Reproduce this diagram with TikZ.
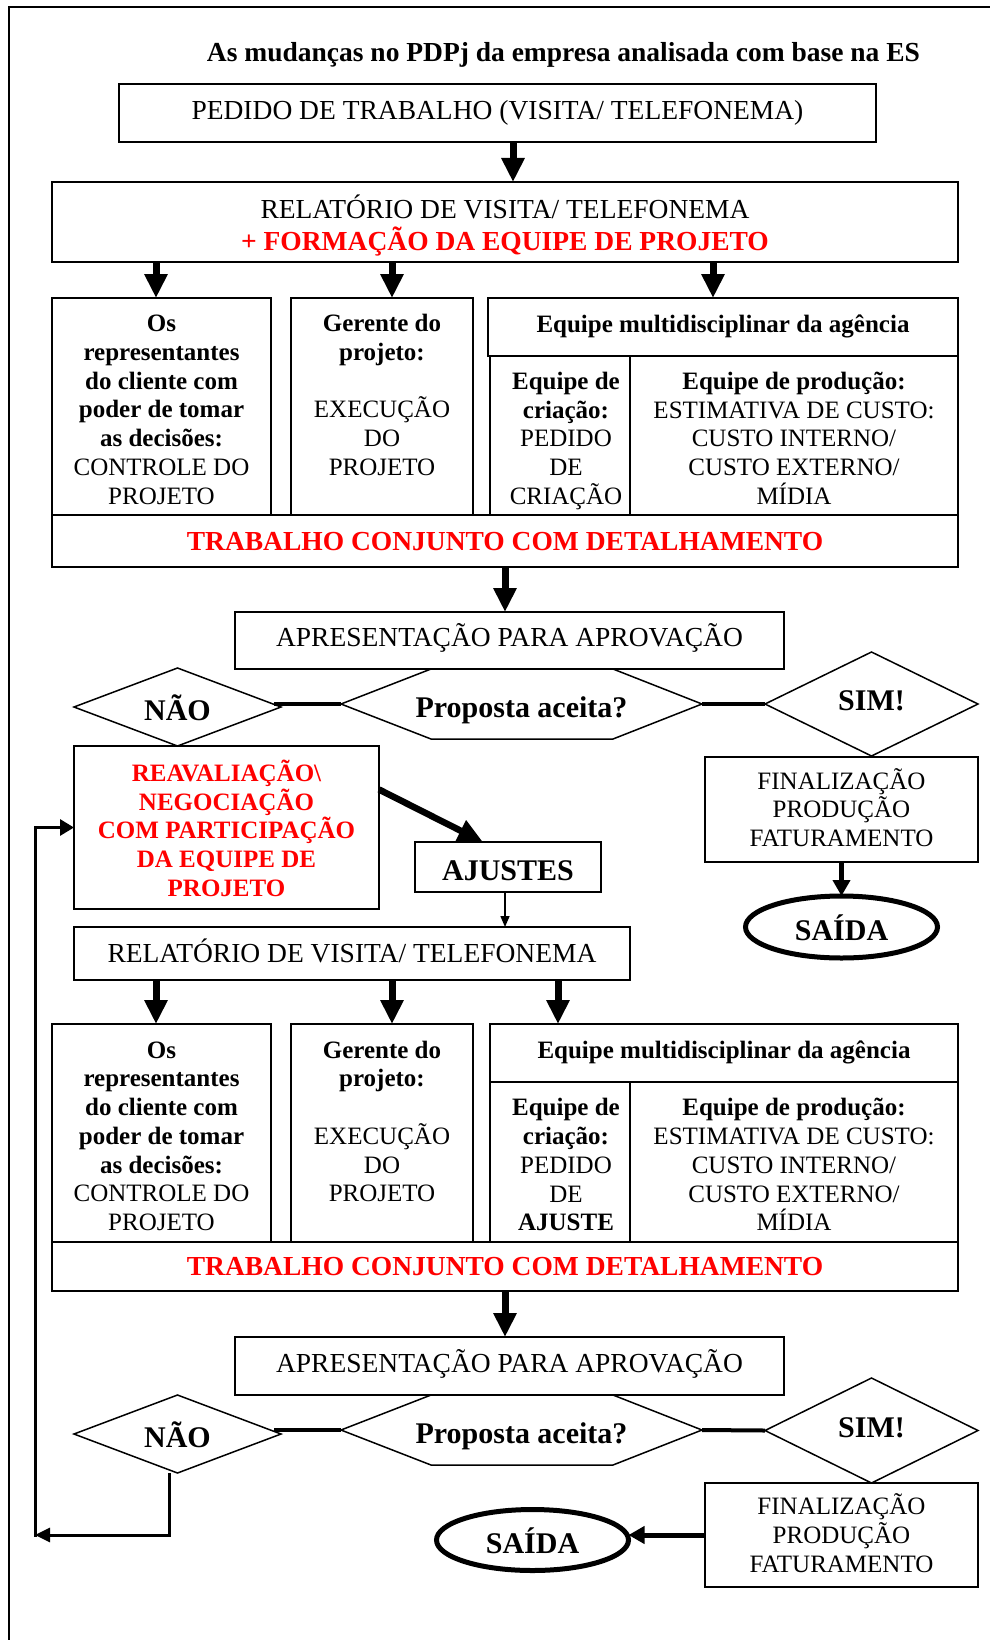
\documentclass[tikz,border=0pt]{standalone}
\usepackage{fontspec}
\setmainfont{Liberation Serif}
\usetikzlibrary{arrows.meta,shapes.geometric}
\definecolor{alertred}{RGB}{255,0,0}
% struts that fix the top and bottom of every text block
\newcommand\hstr{\rule{0pt}{0.95em}}
\newcommand\hstrl{\rule{0pt}{1.19em}}
\newcommand\dstr{\rule[-0.29em]{0pt}{0.29em}}
\newcommand\dstrh{\rule[-0.49em]{0pt}{0.49em}}
\newcommand\szbig{\fontsize{27.5}{31.6}\selectfont}
\newcommand\szmid{\fontsize{25}{28.75}\selectfont}
\newcommand\szdec{\fontsize{30}{34.5}\selectfont\bfseries}
\tikzset{
  box/.style={draw, line width=2pt, rectangle, inner sep=0pt, outer sep=0pt, align=center},
  bigbox/.style={box, font=\szbig},
  midbox/.style={box, font=\szmid},
  decbox/.style={box, font=\szdec},
  midtext/.style={inner sep=0pt, align=center, font=\szmid},
  choice/.style={diamond, draw, line width=1.5pt, inner sep=0pt, outer sep=0pt, font=\szdec},
  hexline/.style={draw, line width=1.5pt, line join=miter},
  qtext/.style={inner sep=0pt, font=\szdec},
  endnode/.style={ellipse, draw, line width=5pt, inner sep=-1.5pt, outer sep=0pt, minimum width=192, minimum height=62, font=\szdec},
  bigarrow/.style={line width=7pt, -{Triangle[length=24pt,width=22pt]}},
  midarrow/.style={line width=5pt, -{Triangle[length=16pt,width=17pt]}},
  thinarrow/.style={line width=1.5pt, -{Triangle[length=11pt,width=9pt]}},
  joinline/.style={line width=4pt},
  loopline/.style={line width=3pt},
}
\begin{document}
\begin{tikzpicture}[x=1pt,y=-1pt]
\useasboundingbox (0,0) rectangle (989,1640);
\fill[white] (0,0) rectangle (989,1640);
% page frame
\draw[line width=2pt] (9,1642) -- (9,7) -- (991,7);

\node[font=\szbig\bfseries, inner sep=0pt] (title) at (563.5,52) {\hstr As mudanças no PDPj da empresa analisada com base na ES\dstr};

% ---------- first round ----------
\node[bigbox, minimum width=757, minimum height=58] (ped) at (497.5,113) {\hstr PEDIDO DE TRABALHO (VISITA/ TELEFONEMA)\dstrh};
\node[bigbox, minimum width=906, minimum height=80] (rel1) at (505,222) {\hstrl RELATÓRIO DE VISITA/ TELEFONEMA\\ \textcolor{alertred}{\bfseries + FORMAÇÃO DA EQUIPE DE PROJETO}\dstr};

\node[midbox, minimum width=219, minimum height=217] (cA1) at (161.5,406.5) {\hstrl\textbf{Os}\\ \textbf{representantes}\\ \textbf{do cliente com}\\ \textbf{poder de tomar}\\ \textbf{as decisões:}\\ CONTROLE DO\\ PROJETO\dstr};
\node[midbox, minimum width=182, minimum height=217] (cB1) at (382,406.5) {\hstrl\textbf{Gerente do}\\ \textbf{projeto:}\\ \\ EXECUÇÃO\\ DO\\ PROJETO\\ \dstr};
\node[midbox, minimum width=470, minimum height=58] (hd1) at (723,327) {\hstr\textbf{Equipe multidisciplinar da agência}\dstrh};
\node[box, minimum width=140, minimum height=159] (sL1) at (560,435.5) {};
\node[midtext] (sL1t) at ([xshift=6pt]sL1.center) {\hstrl\textbf{Equipe de}\\ \textbf{criação:}\\ PEDIDO\\ DE\\ CRIAÇÃO\dstr};
\node[midbox, minimum width=328, minimum height=159] (sR1) at (794,435.5) {\hstrl\textbf{Equipe de produção:}\\ ESTIMATIVA DE CUSTO:\\ CUSTO INTERNO/\\ CUSTO EXTERNO/\\ MÍDIA\dstr};
\node[bigbox, minimum width=906, minimum height=52] (tr1) at (505,541) {\hstr\textcolor{alertred}{\bfseries TRABALHO CONJUNTO COM DETALHAMENTO}\dstr};
\node[bigbox, minimum width=549, minimum height=57] (ap1) at (509.5,640.5) {\hstr APRESENTAÇÃO PARA APROVAÇÃO\dstrh};

\node[qtext] (q1) at (521.5,704) {\hstrl Proposta aceita?\dstr};
\draw[hexline] ([shift={(-180.5,0)}]q1.center) coordinate (q1w) -- ++(90,-35) -- ++(182,0) -- ++(89,35) coordinate (q1e) -- ++(-89,35) -- ++(-182,0) -- cycle;
\node[choice, shape aspect=2.65, minimum width=207, minimum height=78] (n1) at (177.5,707) {\hstrl NÃO\dstr};
\node[choice, shape aspect=2.05, minimum width=213, minimum height=104] (y1) at (871.5,704) {\hstr SIM!\dstrh};

\node[midbox, minimum width=305, minimum height=163, text=alertred, font=\szmid\bfseries] (rv) at (226.5,827.5) {\hstrl REAVALIAÇÃO\textbackslash\\ NEGOCIAÇÃO\\ COM PARTICIPAÇÃO\\ DA EQUIPE DE\\ PROJETO\dstr};
\node[decbox, minimum width=186, minimum height=50] (aj) at (508,867) {\hstrl AJUSTES\dstr};
\node[midbox, minimum width=273, minimum height=105] (fn1) at (841.5,809.5) {\hstr FINALIZAÇÃO\\ PRODUÇÃO\\ FATURAMENTO\dstr};
\node[endnode] (ex1) at (841.5,927) {\hstrl SAÍDA\dstr};

% ---------- second round ----------
\node[bigbox, minimum width=556, minimum height=53] (rel2) at (352,953.5) {\hstr RELATÓRIO DE VISITA/ TELEFONEMA\dstr};

\node[midbox, minimum width=219, minimum height=218] (cA2) at (161.5,1133) {\hstrl\textbf{Os}\\ \textbf{representantes}\\ \textbf{do cliente com}\\ \textbf{poder de tomar}\\ \textbf{as decisões:}\\ CONTROLE DO\\ PROJETO\dstr};
\node[midbox, minimum width=182, minimum height=218] (cB2) at (382,1133) {\hstrl\textbf{Gerente do}\\ \textbf{projeto:}\\ \\ EXECUÇÃO\\ DO\\ PROJETO\\ \dstr};
\node[midbox, minimum width=468, minimum height=58] (hd2) at (724,1053) {\hstr\textbf{Equipe multidisciplinar da agência}\dstrh};
\node[box, minimum width=140, minimum height=160] (sL2) at (560,1162) {};
\node[midtext] (sL2t) at ([xshift=6pt]sL2.center) {\hstrl\textbf{Equipe de}\\ \textbf{criação:}\\ PEDIDO\\ DE\\ \textbf{AJUSTE}\dstr};
\node[midbox, minimum width=328, minimum height=160] (sR2) at (794,1162) {\hstrl\textbf{Equipe de produção:}\\ ESTIMATIVA DE CUSTO:\\ CUSTO INTERNO/\\ CUSTO EXTERNO/\\ MÍDIA\dstr};
\node[bigbox, minimum width=906, minimum height=49] (tr2) at (505,1266.5) {\hstr\textcolor{alertred}{\bfseries TRABALHO CONJUNTO COM DETALHAMENTO}\dstr};
\node[bigbox, minimum width=549, minimum height=58] (ap2) at (509.5,1366) {\hstr APRESENTAÇÃO PARA APROVAÇÃO\dstrh};

\node[qtext] (q2) at (521.5,1430) {\hstrl Proposta aceita?\dstr};
\draw[hexline] ([shift={(-180.5,0)}]q2.center) coordinate (q2w) -- ++(90,-35) -- ++(182,0) -- ++(89,35) coordinate (q2e) -- ++(-89,35) -- ++(-182,0) -- cycle;
\node[choice, shape aspect=2.65, minimum width=207, minimum height=78] (n2) at (177.5,1434) {\hstrl NÃO\dstr};
\node[choice, shape aspect=2.05, minimum width=213, minimum height=105] (y2) at (871.5,1430.5) {\hstr SIM!\dstrh};

\node[midbox, minimum width=273, minimum height=104] (fn2) at (841.5,1535) {\hstr FINALIZAÇÃO\\ PRODUÇÃO\\ FATURAMENTO\dstr};
\node[endnode, minimum height=61] (ex2) at (532.5,1540) {\hstrl SAÍDA\dstr};

% ---------- connectors ----------
\coordinate (pa) at ([xshift=8pt]rel1.north);
\draw[bigarrow] (pa |- ped.south) -- (pa);

\coordinate (ka) at ([xshift=-5.5pt]cA1.north);
\coordinate (kb) at ([xshift=10pt]cB1.north);
\coordinate (kc) at ([xshift=-10pt]hd1.north);
\draw[bigarrow] (ka |- rel1.south) -- (ka);
\draw[bigarrow] (kb |- rel1.south) -- (kb);
\draw[bigarrow] (kc |- rel1.south) -- (kc);

\draw[bigarrow] (tr1.south) -- (tr1.south |- ap1.north);

\coordinate (n1t) at ([xshift=-7pt]n1.east);
\draw[joinline] (n1t |- q1w) -- (q1w);
\draw[joinline] (q1e) -- (y1.west);

\draw[line width=6.5pt, -{Triangle[length=25pt,width=22pt]}] (rv.14) -- (aj.135);
\coordinate (ja) at ([xshift=-3pt]aj.south);
\draw[thinarrow] (ja) -- (ja |- rel2.north);
\draw[midarrow] (fn1.south) -- (ex1.north);

\coordinate (ma) at ([xshift=-5.5pt]cA2.north);
\coordinate (mb) at ([xshift=10pt]cB2.north);
\coordinate (mc) at ([xshift=-2pt]sL2.north);
\draw[bigarrow] (ma |- rel2.south) -- (ma |- cA2.north);
\draw[bigarrow] (mb |- rel2.south) -- (mb |- cB2.north);
\draw[bigarrow] (mc |- rel2.south) -- (mc |- hd2.north);

\draw[bigarrow] (tr2.south) -- (tr2.south |- ap2.north);

\coordinate (n2t) at ([xshift=-7pt]n2.east);
\draw[joinline] (n2t |- q2w) -- (q2w);
\draw[joinline] (q2e) -- (y2.west);

\draw[midarrow] (fn2.west) -- (fn2.west -| ex2.east);

% return path from the second refusal back to the renegotiation box
\coordinate (lpA) at (35,1535);
\coordinate (nb) at ([xshift=-8pt]n2.south);
\draw[loopline, -{Triangle[length=15pt,width=14pt]}] (nb) |- (lpA);
\draw[loopline, -{Triangle[length=14pt,width=16pt]}] (lpA) ++(0,1.5) |- (rv.west);
\end{tikzpicture}
\end{document}
